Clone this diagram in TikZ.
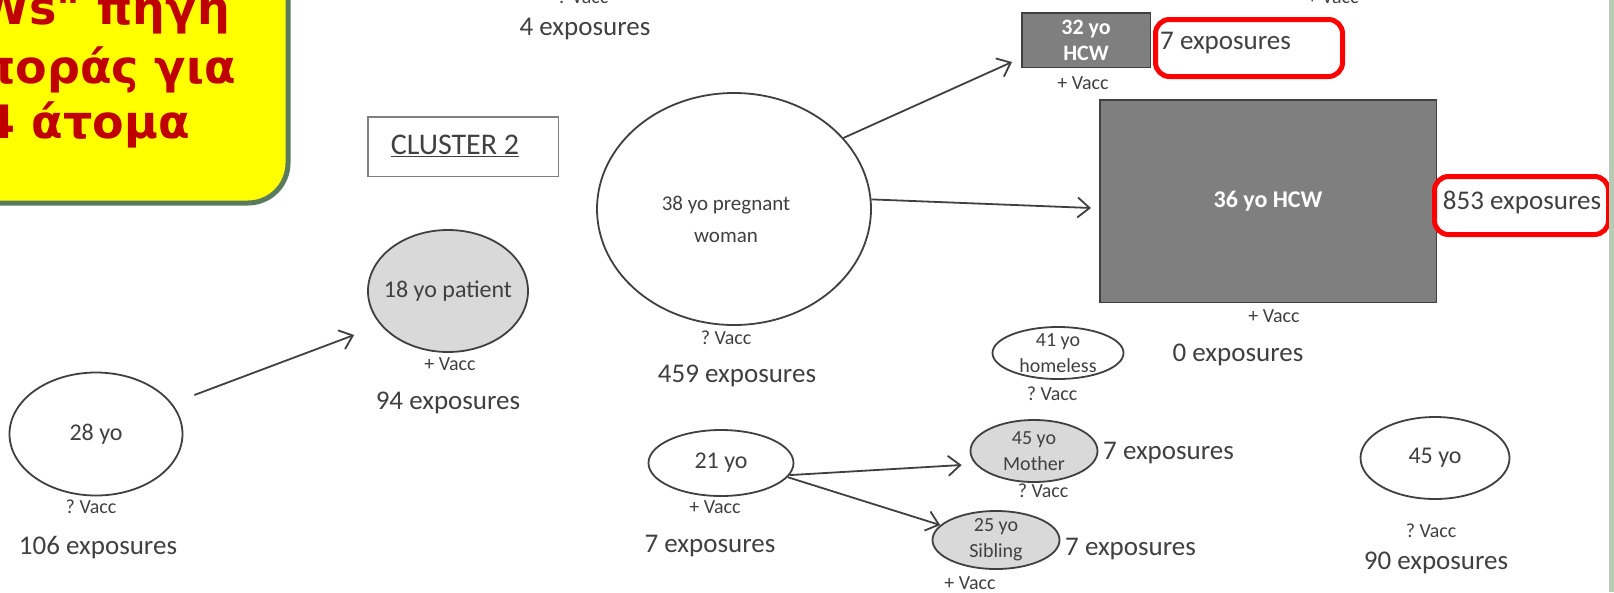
\documentclass[tikz,border=0pt]{standalone}
\usepackage{fontspec}
\setmainfont{Carlito}
\newfontfamily\grkfont{DejaVu Sans}
\usetikzlibrary{shapes.geometric,arrows.meta}
\frenchspacing
\definecolor{txt}{HTML}{404040}
\definecolor{edge}{HTML}{404040}
\definecolor{lgray}{HTML}{D9D9D9}
\definecolor{dgray}{HTML}{7F7F7F}
\definecolor{ybox}{HTML}{FFFF00}
\definecolor{ygreen}{HTML}{5B7B5E}
\definecolor{grkred}{HTML}{C00000}
\definecolor{rim}{HTML}{B7CAB3}
\tikzset{
  ellip/.style={ellipse, draw=edge, line width=1.8pt, inner sep=0pt},
  sick/.style={fill=lgray},
  ntext/.style={text=txt, align=center, inner sep=0pt, font=\fontsize{24}{28}\selectfont},
  stext/.style={text=txt, align=center, inner sep=0pt, font=\fontsize{20}{26}\selectfont},
  hcw/.style={rectangle, fill=dgray, draw=edge, line width=1.5pt, inner sep=0pt, text=white, align=center, font=\bfseries\fontsize{22}{26}\selectfont},
  vacc/.style={text=txt, inner sep=0pt, font=\fontsize{20}{24}\selectfont},
  expo/.style={text=txt, inner sep=0pt, font=\fontsize{27}{32}\selectfont},
  arr/.style={draw=edge, line width=1.8pt, -{Straight Barb[length=12pt,width=20pt,line width=1.8pt]}},
  redbox/.style={draw=red, line width=5pt, rounded corners=14pt, inner sep=0pt},
  grktext/.style={text=grkred, inner sep=0pt, font=\grkfont\bfseries\fontsize{46}{54}\selectfont},
}
\begin{document}
\begin{tikzpicture}[x=1pt,y=-1pt]
\useasboundingbox (0,0) rectangle (1614,592);
\clip (0,0) rectangle (1614,592);
\fill[white] (0,0) rectangle (1614,592);

% yellow callout
\draw[fill=ybox, draw=ygreen, line width=5pt, rounded corners=40pt] (-80,-80) rectangle (288,203);
\node[grktext, anchor=base east] (g1) at (230,24) {Ws" πηγή};
\node[grktext, anchor=base east] (g2) at (236,83) {ποράς για};
\node[grktext, anchor=base east] (g3) at (190,138) {4 άτομα};

% top partial labels
\node[vacc] (topv1) at (583,-3) {? Vacc};
\node[expo] (tope1) at (585,29) {4 exposures};
\node[vacc] (topv2) at (1333,-3) {+ Vacc};

% cluster label
\node[draw=dgray, line width=1.5pt, minimum width=190.5pt, minimum height=59.5pt, inner sep=0pt] (cl) at (463,146.5) {};
\node[text=txt, inner sep=0pt, font=\fontsize{30}{34}\selectfont] (clt) at (455,146) {\underline{CLUSTER 2}};

% 28 yo
\node[ellip, minimum width=173pt, minimum height=123pt] (y28) at (96,434) {};
\node[ntext] (y28t) at (y28.center) {28 yo};
\node[vacc] (y28v) at (91,507) {? Vacc};
\node[expo] (y28e) at (98,548) {106 exposures};

% 18 yo patient
\node[ellip, sick, minimum width=160pt, minimum height=122pt] (pat) at (448,291) {};
\node[ntext] (patt) at (pat.center) {18 yo patient};
\node[vacc] (patv) at (450,364) {+ Vacc};
\node[expo] (pate) at (448,403) {94 exposures};

% 38 yo pregnant woman
\node[ellip, minimum width=274pt, minimum height=232pt] (preg) at (734,209) {};
\node[ntext, font=\fontsize{21}{32}\selectfont] (pregt) at (726,219) {38 yo pregnant\\woman};
\node[vacc] (pregv) at (726,338) {? Vacc};
\node[expo] (prege) at (737,376) {459 exposures};

% 32 yo HCW
\node[hcw, minimum width=128.5pt, minimum height=54.5pt] (h32) at (1086,40) {32 yo\\HCW};
\node[vacc] (h32v) at (1083,83) {+ Vacc};
\node[redbox, minimum width=187pt, minimum height=57pt] (r7) at (1249,48) {};
\node[expo, anchor=west] (h32e) at (1160,43) {7 exposures};

% 36 yo HCW
\node[hcw, font=\bfseries\fontsize{24}{28}\selectfont, minimum width=336.5pt, minimum height=202.5pt] (h36) at (1268,201) {36 yo HCW};
\node[vacc] (h36v) at (1274,316) {+ Vacc};
\node[expo] (h36e0) at (1238,355) {0 exposures};
\node[redbox, minimum width=174pt, minimum height=58pt] (r853) at (1521.5,205.5) {};
\node[expo] (h36e) at (1522,202) {853 exposures};

% 41 yo homeless
\node[ellip, minimum width=131pt, minimum height=52pt] (home) at (1058,353) {};
\node[stext] (homet) at (home.center) {41 yo\\homeless};
\node[vacc] (homev) at (1052,394) {? Vacc};

% 45 yo Mother
\node[ellip, sick, minimum width=127pt, minimum height=62pt] (mom) at (1034,451) {};
\node[stext] (momt) at (mom.center) {45 yo\\Mother};
\node[vacc] (momv) at (1043,491) {? Vacc};
\node[expo, anchor=west] (mome) at (1103,453) {7 exposures};

% 25 yo Sibling
\node[ellip, sick, minimum width=127pt, minimum height=58pt] (sib) at (996,540) {};
\node[stext] (sibt) at (sib.center) {25 yo\\Sibling};
\node[vacc] (sibv) at (970,583) {+ Vacc};
\node[expo, anchor=west] (sibe) at (1065,549) {7 exposures};

% 21 yo
\node[ellip, minimum width=145pt, minimum height=66pt] (y21) at (721,463) {};
\node[ntext] (y21t) at (y21.center) {21 yo};
\node[vacc] (y21v) at (715,507) {+ Vacc};
\node[expo] (y21e) at (710,546) {7 exposures};

% 45 yo
\node[ellip, minimum width=149pt, minimum height=82pt] (y45) at (1435,458) {};
\node[ntext] (y45t) at (y45.center) {45 yo};
\node[vacc] (y45v) at (1431,531) {? Vacc};
\node[expo] (y45e) at (1436,563) {90 exposures};

% arrows
\draw[arr] ([shift={(11,-39)}]y28.east) -- ([shift={(-13,44)}]pat.west);
\draw[arr] (preg.33) -- ([shift={(-9,-6)}]h32.south west);
\draw[arr] (preg.4) -- ([shift={(-8,7)}]h36.west);
\draw[arr] (y21.-10) -- ([shift={(-8,14)}]mom.west);
\draw[arr] (y21.-12) -- (sib.165);

% right rim
\fill[rim] (1609,0) rectangle (1614,592);
\end{tikzpicture}
\end{document}
